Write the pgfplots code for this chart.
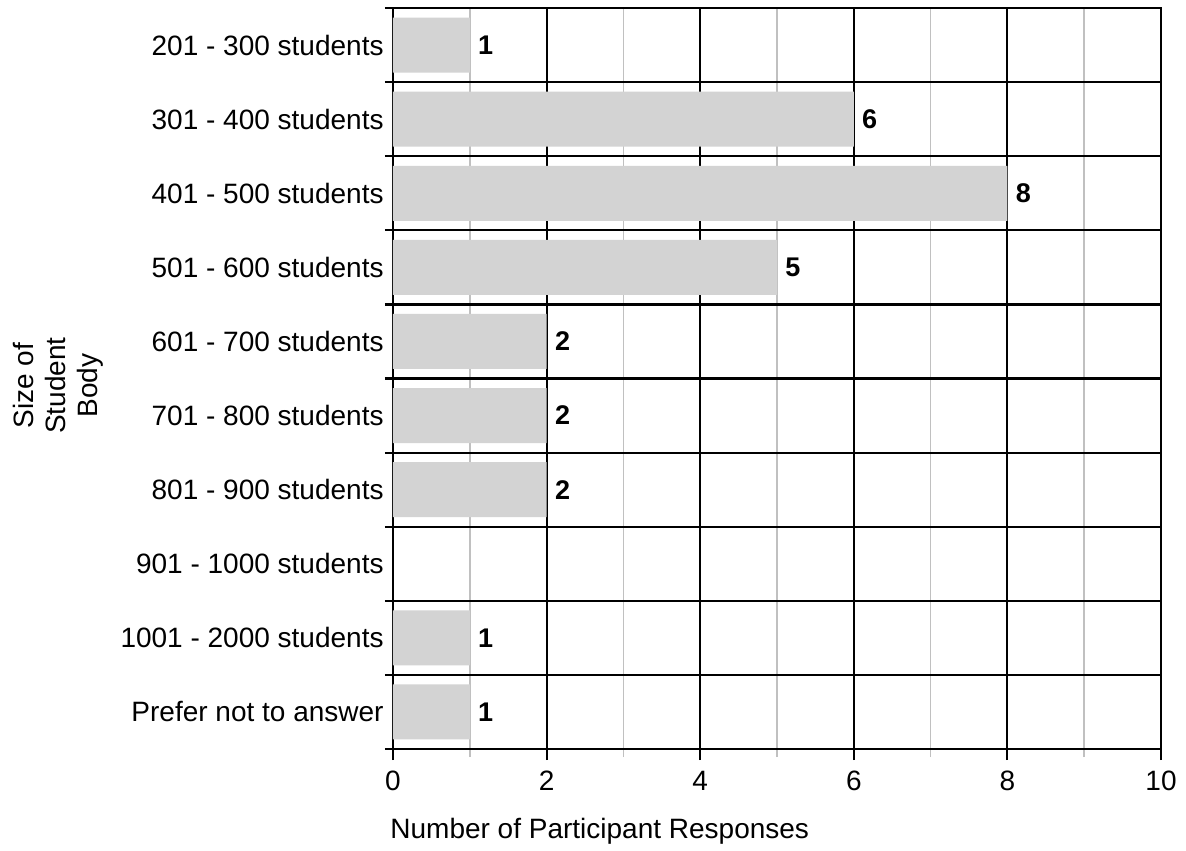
\documentclass[border=0pt]{standalone}
\usepackage{fontspec}
\setmainfont{Liberation Sans}
\usepackage{pgfplots}
\pgfplotsset{compat=1.18}
\definecolor{bargray}{RGB}{211,211,211}
\definecolor{gridgray}{RGB}{192,192,192}

\begin{document}
\begin{tikzpicture}
\begin{axis}[
  scale only axis,
  width=384pt, height=370.5pt,
  xmin=0, xmax=10,
  ymin=-0.5, ymax=9.5,
  y dir=reverse,
  xbar, bar width=27.5pt,
  point meta=x,
  /pgf/number format/assume math mode=true,
  xtick={0,2,...,10},
  minor xtick={1,3,...,9},
  ytick={0,...,9},
  yticklabels={201 - 300 students, 301 - 400 students, 401 - 500 students,
    501 - 600 students, 601 - 700 students, 701 - 800 students,
    801 - 900 students, 901 - 1000 students, 1001 - 2000 students,
    Prefer not to answer},
  minor ytick={-0.5,0.5,...,9.5},
  xmajorgrids, xminorgrids, yminorgrids,
  major x grid style={black, line width=1pt},
  minor x grid style={gridgray, line width=0.8pt},
  minor y grid style={black, line width=1.1pt},
  axis line style={black, line width=1.1pt},
  tick align=outside,
  xtick pos=bottom, ytick pos=left,
  major tick length=5.5pt, minor tick length=4pt,
  major x tick style={black, line width=1pt},
  minor x tick style={gridgray, line width=0.8pt},
  major y tick style={draw=none},
  minor y tick style={black, line width=1.1pt},
  ticklabel style={font=\fontsize{14}{16.8}\selectfont},
  yticklabel style={anchor=east, inner sep=0pt, xshift=1pt},
  xticklabel style={anchor=north, inner sep=0pt, yshift=-5.5pt},
  xlabel={Number of Participant Responses},
  xlabel style={at={(axis description cs:0,0)}, anchor=base west,
    inner sep=0pt, xshift=-1.5pt, yshift=-44.5pt,
    font=\fontsize{14}{16.8}\selectfont},
  ylabel={Size of\\Student\\Body},
  ylabel style={at={(axis description cs:-0.4362,0.4906)}, anchor=center,
    align=center, inner sep=0pt,
    font=\fontsize{14}{16}\selectfont},
  nodes near coords,
  nodes near coords style={anchor=west, inner sep=0pt, xshift=4pt,
    font=\bfseries\fontsize{13.5}{16}\selectfont},
]
\addplot[fill=bargray, draw=none] coordinates {
  (1,0) (6,1) (8,2) (5,3) (2,4) (2,5) (2,6) (1,8) (1,9)
};
\coordinate (ll) at (axis description cs:0,0);
\coordinate (ur) at (axis description cs:1,1);
\end{axis}
\pgfresetboundingbox
\path[use as bounding box] ([xshift=-196.5pt, yshift=-50.5pt]ll)
  rectangle ([xshift=12.5pt, yshift=4pt]ur);
\end{tikzpicture}
\end{document}
